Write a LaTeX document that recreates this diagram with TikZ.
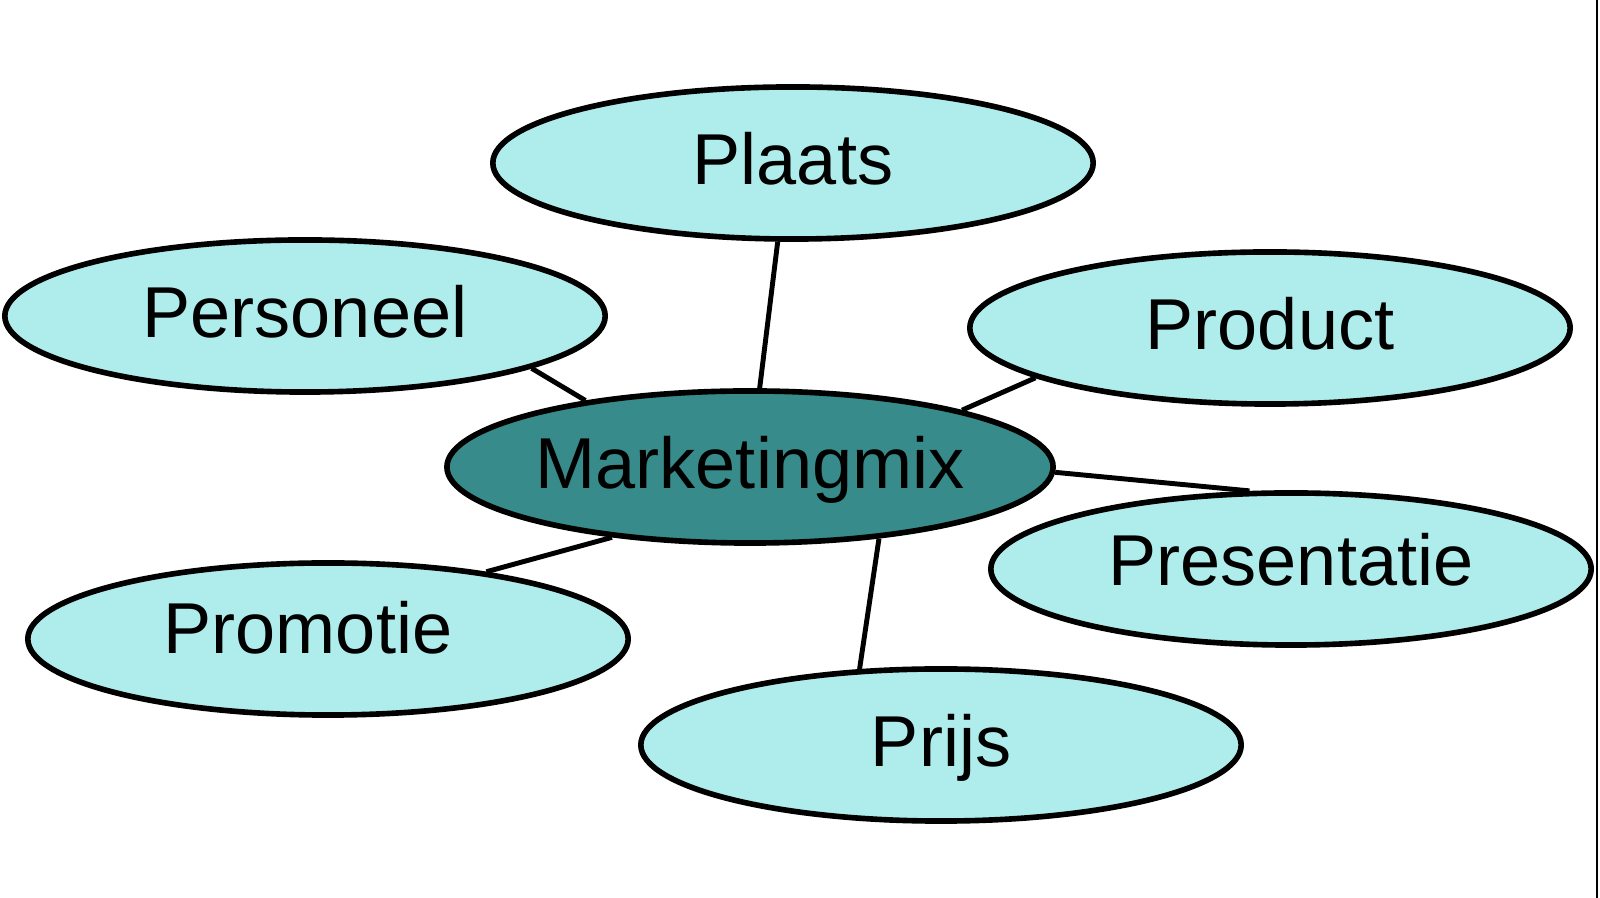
\documentclass[tikz,border=0pt]{standalone}
\usepackage{fontspec}
\setmainfont{Liberation Sans}
\usetikzlibrary{shapes.geometric}
\definecolor{lightcyan}{RGB}{175,237,237}
\definecolor{darkteal}{RGB}{56,139,139}
\tikzset{
  blob/.style={ellipse, draw=black, line width=1.6pt, fill=lightcyan,
    minimum width=6.0cm, minimum height=1.52cm, inner sep=0pt,
    font=\fontsize{20.5}{24}\selectfont, text height=0.53cm, text depth=0.10cm},
  hub/.style={blob, fill=darkteal},
  link/.style={line width=1.4pt}
}
\begin{document}
\begin{tikzpicture}[x=0.01cm, y=-0.01cm]
\useasboundingbox (0,0) rectangle (1600,898);

\node[hub]  (mix)  at (750,467)  {Marketingmix};
\node[blob] (plaats) at (793,163) {Plaats};
\node[blob] (pers) at (305,316)  {Personeel};
\node[blob] (prod) at (1270,328) {Product};
\node[blob] (pres) at (1291,569) {\raisebox{0.05cm}{Presentatie}};
\node[blob] (prom) at (328,639)  {\raisebox{0.07cm}{Promotie}\kern0.4cm};
\node[blob] (prijs) at (941,745) {Prijs};

\draw[link] (plaats.259) -- (mix.83);
\draw[link] (pers.347) -- (mix.158);
\draw[link] (prod.192) -- (mix.15);
\draw[link] (mix.359) -- (pres.118);
\draw[link] (mix.207) -- (prom.23);
\draw[link] (mix.331) -- (prijs.137);

% right edge rule
\draw[line width=0.8pt] (1597,0) -- (1597,898);
\end{tikzpicture}
\end{document}
